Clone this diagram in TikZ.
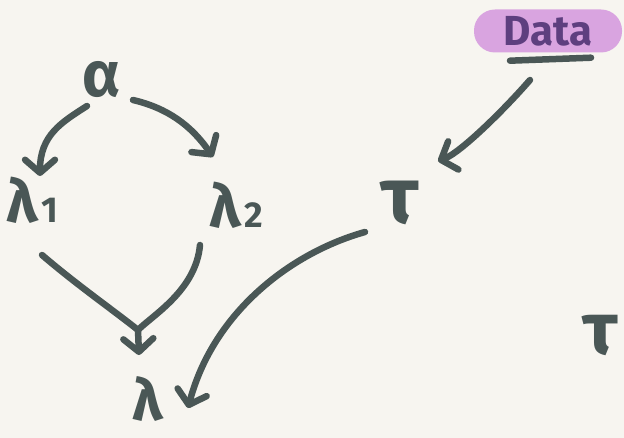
\documentclass[tikz,border=0pt]{standalone}
\usepackage{fontspec}
\newfontfamily\datafont{Fira Sans}
\usetikzlibrary{arrows.meta,calc}
\definecolor{ink}{HTML}{4A5756}
\definecolor{paper}{HTML}{F7F5F0}
\definecolor{hl}{HTML}{D9A4E0}
\definecolor{plum}{HTML}{5E3F7F}
\newcommand\gksize[1]{\datafont\bfseries\fontsize{#1}{#1}\selectfont}
\newcommand\subdig[1]{\kern3pt{\fontsize{36}{36}\selectfont #1}}
\begin{document}
\begin{tikzpicture}[x=1pt,y=-1pt,
  sym/.style={text=ink, inner sep=0pt, font=\gksize{60}},
  edge/.style={draw=ink, line width=6.5pt, line cap=round, line join=round,
    -{Straight Barb[round, length=13pt, width=30pt]}},
  plain/.style={draw=ink, line width=6.5pt, line cap=round}]
\fill[paper] (0,0) rectangle (624,438);
\useasboundingbox (0,0) rectangle (624,438);

\node[sym, font=\gksize{64}] (alpha) at (102,80) {α};
\node[sym] (lam1) at (32,200) {λ\subdig{1}};
\node[sym] (lam2) at (236,205) {λ\subdig{2}};
\node[sym, font=\gksize{58}] (lam) at (148,399) {λ};
\node[sym, font=\gksize{80}] (tau) at (400,203) {τ};
\node[sym, font=\gksize{74}] (tau2) at (600,335) {τ};
\node[fill=hl, rounded corners=21pt, minimum width=148pt, minimum height=43pt,
  text=plum, font=\datafont\bfseries\fontsize{42}{46}\selectfont, inner sep=0pt]
  (data) at (548,31) {Data};

% underline under Data
\draw[plain] ($(data.south)+(-38,8)$) -- ($(data.south)+(43,5)$);

% alpha -> lambda1
\draw[edge] ($(alpha)+(-15,26)$) .. controls ($(alpha)+(-40,42)$) and ($(lam1)+(8,-65)$) .. ($(lam1)+(8,-24)$);
% alpha -> lambda2
\draw[edge] ($(alpha)+(31,20)$) .. controls ($(alpha)+(65,28)$) and ($(lam2)+(-45,-80)$) .. ($(lam2)+(-23,-48)$);

% lambda1, lambda2 -> lambda (merge)
\coordinate (m) at ($(lam)+(-10,-69)$);
\draw[plain] ($(lam1)+(10,55)$) .. controls ($(lam1)+(45,85)$) and ($(m)+(-25,-20)$) .. (m);
\draw[plain] ($(lam2)+(-36,40)$) .. controls ($(lam2)+(-40,85)$) and ($(m)+(15,-15)$) .. (m);
\draw[edge] (m) -- ($(lam)+(-9,-44)$);

% tau -> lambda
\draw[edge] ($(tau)+(-35,29)$) .. controls ($(tau)+(-110,50)$) and ($(lam)+(65,-86)$) .. ($(lam)+(40,9)$);

% Data -> tau
\draw[edge] ($(data)+(-18,49)$) .. controls ($(data)+(-45,80)$) and ($(tau)+(60,-50)$) .. ($(tau)+(38,-42)$);
\end{tikzpicture}
\end{document}
